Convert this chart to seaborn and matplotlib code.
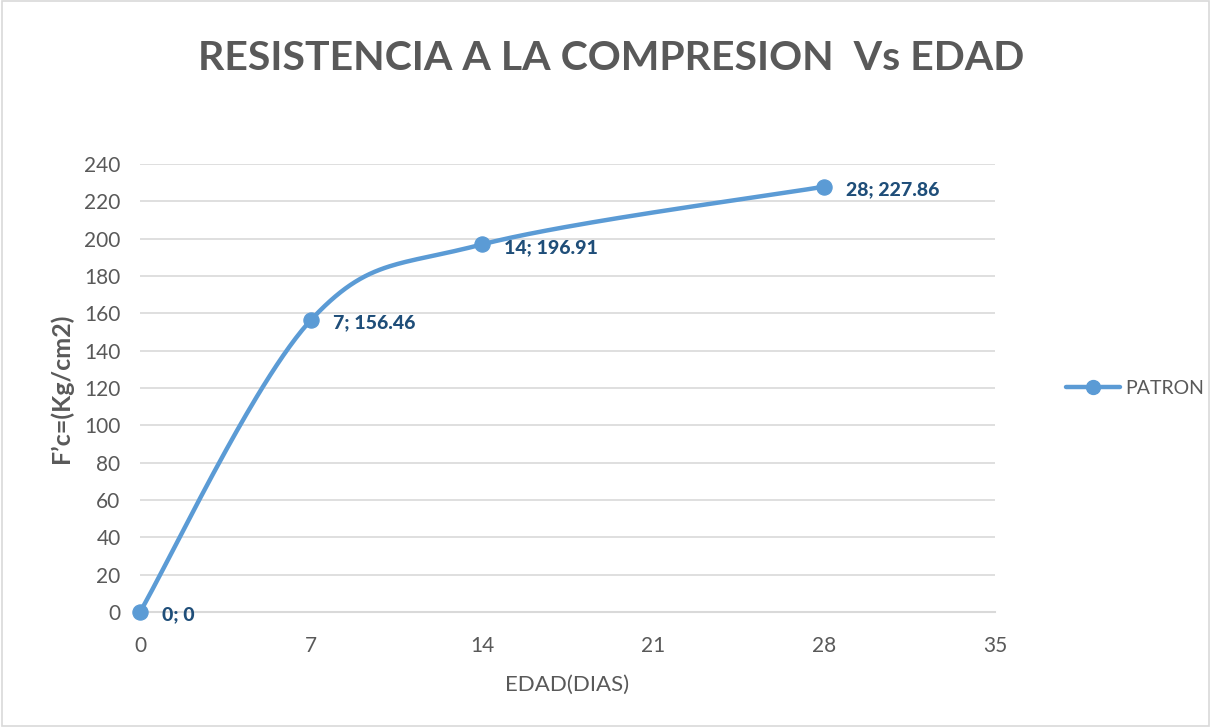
import numpy as np
import pandas as pd
import matplotlib
matplotlib.use("Agg")
import matplotlib.pyplot as plt
import seaborn as sns
from matplotlib.patches import Rectangle
from matplotlib.lines import Line2D

edad = [0, 7, 14, 28]
resistencia = [0, 156.46, 196.91, 227.86]
etiquetas = ["0; 0", "7; 156.46", "14; 196.91", "28; 227.86"]
serie = "PATRON"
xticks = [0, 7, 14, 21, 28, 35]
yticks = list(range(0, 241, 20))

sns.set_theme(style="white")
plt.rcParams['font.family'] = ['Lato', 'DejaVu Sans']

LINE = "#5b9bd5"
GRAY = "#595959"
LABEL = "#1f4e79"

fig = plt.figure(figsize=(12.11, 7.27), dpi=100)
ax = fig.add_axes([140/1211, 1-612/727, (995-140)/1211, (612-164)/727])
ax.set_xlim(0, 35)
ax.set_ylim(0, 240)

df = pd.DataFrame({"edad": edad, "res": resistencia})

# Excel-like smoothing (Catmull-Rom Bezier in display space)
fig.canvas.draw()
pts = ax.transData.transform(np.column_stack([edad, resistencia]))
n = len(pts)
curve = []
for i in range(n - 1):
    p0 = pts[i - 1] if i > 0 else pts[i]
    p1 = pts[i]
    p2 = pts[i + 1]
    p3 = pts[i + 2] if i + 2 < n else pts[i + 1]
    c1 = p1 + (p2 - p0) / 6
    c2 = p2 - (p3 - p1) / 6
    t = np.linspace(0, 1, 60)[:, None]
    seg = ((1 - t) ** 3) * p1 + 3 * ((1 - t) ** 2) * t * c1 + 3 * (1 - t) * t ** 2 * c2 + t ** 3 * p2
    curve.append(seg if i == 0 else seg[1:])
curve = np.vstack(curve)
curve_data = ax.transData.inverted().transform(curve)
smooth = pd.DataFrame({"x": curve_data[:, 0], "y": curve_data[:, 1]})

sns.lineplot(data=smooth, x="x", y="y", ax=ax, color=LINE, lw=3.2, sort=False,
             solid_capstyle="round", zorder=3, legend=False)
sns.scatterplot(data=df, x="edad", y="res", ax=ax, color=LINE, s=120,
                edgecolor=LINE, zorder=4, legend=False)
for coll in ax.collections:
    coll.set_clip_on(False)
for ln in ax.lines:
    ln.set_clip_on(False)

for xv, yv, lab in zip(edad, resistencia, etiquetas):
    ax.annotate(lab, (xv, yv), xytext=(16, -2), textcoords="offset points",
                ha="left", va="center", fontsize=14, fontweight="black",
                color=LABEL, zorder=5)

ax.set_xticks(xticks)
ax.set_yticks(yticks)
ax.tick_params(axis="x", colors=GRAY, labelsize=15, length=5, width=1,
               direction="out", pad=12, color="#d9d9d9")
ax.tick_params(axis="y", colors=GRAY, labelsize=15, length=0, pad=14)
ax.grid(axis="y", color="#d9d9d9", lw=1.2)
ax.grid(axis="x", visible=False)
for s in ["top", "right", "left"]:
    ax.spines[s].set_visible(False)
ax.spines["bottom"].set_color("#d9d9d9")
ax.spines["bottom"].set_linewidth(1.5)
ax.set_xlabel("EDAD(DIAS)", fontsize=16, color=GRAY, labelpad=14)
ax.set_ylabel("F’c=(Kg/cm2)", fontsize=18, color=GRAY, fontweight="bold", labelpad=8)

fig.text(611/1211, 1-58/727, "RESISTENCIA A LA COMPRESION  Vs EDAD", ha="center",
         va="center", fontsize=29.5, fontweight="bold", color=GRAY)

h = Line2D([0], [0], color=LINE, lw=3.2, marker="o", markersize=10,
           solid_capstyle="round")
fig.legend([h], [serie], loc="center left", bbox_to_anchor=(1066/1211, 1-388/727),
           frameon=False, fontsize=14, handlelength=2.8, handletextpad=0.25,
           borderpad=0, borderaxespad=0, labelcolor=GRAY)

fig.patches.append(Rectangle((0.002, 0.002), 0.996, 0.996, transform=fig.transFigure,
                             fill=False, edgecolor="#d9d9d9", lw=1.2))

fig.savefig("out.png", dpi=100)
